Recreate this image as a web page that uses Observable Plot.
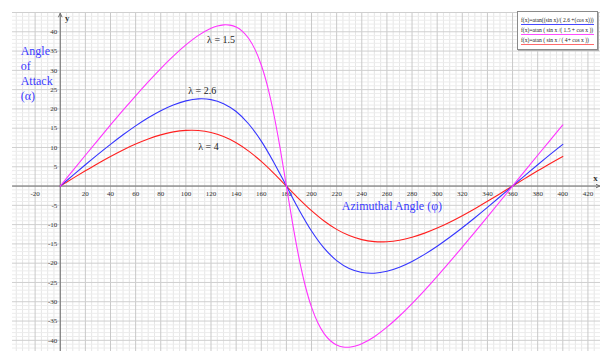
<!DOCTYPE html>
<html>
<head>
<meta charset="utf-8">
<script src="https://cdn.jsdelivr.net/npm/d3@7"></script>
<script src="https://cdn.jsdelivr.net/npm/@observablehq/plot@0.6"></script>
<style>
  html, body { margin: 0; padding: 0; background: #fff; }
  #wrap { position: relative; width: 600px; height: 351px; overflow: hidden; }
  #legend { position: absolute; left: 517px; top: 11px; width: 79px; height: 37px;
    border: 1px solid #8a8a8a; box-shadow: 1px 1px 0 #b0b0b0; background: #fff;
    font-family: "Liberation Serif", serif; font-size: 5.6px; color: #222; }
  #legend div { position: absolute; left: 3px; width: 73px; white-space: nowrap; line-height: 7px; height: 7px; }
</style>
</head>
<body>
<div id="wrap"></div>
<script>
// Azimuthal angle (degrees)
const angles = [0,10,20,30,40,50,60,70,80,90,100,110,120,130,140,150,160,170,180,
  190,200,210,220,230,240,250,260,270,280,290,300,310,320,330,340,350,360,370,380,390,400];
// Angle of attack for lambda = 2.6
const lam26 = [0,2.77,5.52,8.21,10.81,13.29,15.61,17.71,19.55,21.04,22.09,22.60,22.41,21.37,19.32,16.09,11.64,6.13,0,
  -6.13,-11.64,-16.09,-19.32,-21.37,-22.41,-22.60,-22.09,-21.04,-19.55,-17.71,-15.61,-13.29,-10.81,-8.21,-5.52,-2.77,0,2.77,5.52,8.21,10.81];
// Angle of attack for lambda = 4
const lam4 = [0,1.99,3.96,5.87,7.68,9.37,10.89,12.21,13.27,14.04,14.43,14.41,13.90,12.85,11.24,9.07,6.38,3.30,0,
  -3.30,-6.38,-9.07,-11.24,-12.85,-13.90,-14.41,-14.43,-14.04,-13.27,-12.21,-10.89,-9.37,-7.68,-5.87,-3.96,-1.99,0,1.99,3.96,5.87,7.68];
// lambda = 1.5 (denser sampling near the steep part)
const angles15 = [0,10,20,30,40,50,60,70,80,90,100,110,120,125,130,135,140,145,150,155,160,165,170,175,180,
  185,190,195,200,205,210,215,220,225,230,235,240,250,260,270,280,290,300,310,320,330,340,350,360,370,380,390,400];
const lam15 = [0,4.00,7.98,11.93,15.84,19.67,23.41,27.03,30.47,33.69,36.59,39.06,40.89,41.48,41.79,41.72,41.21,40.11,38.26,35.44,31.40,25.85,18.62,9.82,0,
  -9.82,-18.62,-25.85,-31.40,-35.44,-38.26,-40.11,-41.21,-41.72,-41.79,-41.48,-40.89,-39.06,-36.59,-33.69,-30.47,-27.03,-23.41,-19.67,-15.84,-11.93,-7.98,-4.00,0,4.00,7.98,11.93,15.84];

const xTicks = [-20,20,40,60,80,100,120,140,160,180,200,220,240,260,280,300,320,340,360,380,400,420];
const yTicks = [-40,-35,-30,-25,-20,-15,-10,-5,5,10,15,20,25,30,35,40];

const legendLabels = ["f(x)=atan((sin x)/( 2.6 +(cos x)))", "f(x)=atan ( sin x /( 1.5 + cos x ))", "f(x)=atan ( sin x / ( 4+ cos x ))"];
const legendColors = ["#4848ff", "#ff4dff", "#ff6a6a"];

const cBlue = "#3535ff", cMag = "#ff33ff", cRed = "#ff2020";

const s26 = angles.map((a, i) => ({x: a, y: lam26[i]}));
const s4 = angles.map((a, i) => ({x: a, y: lam4[i]}));
const s15 = angles15.map((a, i) => ({x: a, y: lam15[i]}));

const X0 = -38, X1 = 430, Y0 = -42.9, Y1 = 45;
const minorX = d3.range(-35, 431, 5).filter(v => v % 20 !== 0);
const majorX = d3.range(-20, 431, 20);
const minorY = d3.range(-42, 46, 1).filter(v => v % 5 !== 0);
const majorY = d3.range(-40, 46, 5);
const serif = "Liberation Serif, Times New Roman, serif";

const chart = Plot.plot({
  width: 600, height: 351,
  marginLeft: 12, marginTop: 12, marginRight: 0, marginBottom: 0,
  x: {domain: [X0, X1], axis: null},
  y: {domain: [Y0, Y1], axis: null},
  style: {background: "#fff", fontFamily: serif},
  marks: [
    Plot.ruleX(minorX, {stroke: "#e6e6e6", strokeWidth: 1}),
    Plot.ruleY(minorY, {stroke: "#ececec", strokeWidth: 1}),
    Plot.ruleX(majorX, {stroke: "#c9c9c9", strokeWidth: 1}),
    Plot.ruleY(majorY, {stroke: "#cfcfcf", strokeWidth: 1}),
    Plot.arrow([{x1: X0, y1: 0, x2: 429.5, y2: 0}], {x1: "x1", y1: "y1", x2: "x2", y2: "y2", stroke: "#6e6e6e", strokeWidth: 1, headLength: 6, headAngle: 50}),
    Plot.arrow([{x1: 0, y1: Y0, x2: 0, y2: 44.8}], {x1: "x1", y1: "y1", x2: "x2", y2: "y2", stroke: "#6e6e6e", strokeWidth: 1, headLength: 6, headAngle: 50}),
    Plot.text(xTicks, {x: d => d, y: 0, text: d => String(d), dy: 8, fontSize: 7, fill: "#333"}),
    Plot.text(yTicks, {x: 0, y: d => d, text: d => String(d), dx: -3, textAnchor: "end", fontSize: 7, fill: "#333"}),
    Plot.text(["x"], {x: X1, y: 0, text: d => d, dx: -5, dy: -8, fontSize: 9, fontWeight: "bold", fill: "#333"}),
    Plot.text(["y"], {x: 0, y: Y1, text: d => d, dx: 7, dy: 6, fontSize: 9, fontWeight: "bold", fill: "#333"}),
    Plot.line(s4, {x: "x", y: "y", stroke: cRed, strokeWidth: 1.1, curve: "catmull-rom"}),
    Plot.line(s26, {x: "x", y: "y", stroke: cBlue, strokeWidth: 1.1, curve: "catmull-rom"}),
    Plot.line(s15, {x: "x", y: "y", stroke: cMag, strokeWidth: 1.1, curve: "catmull-rom"}),
    Plot.text(["λ = 1.5"], {x: 128, y: 38, text: d => d, fontSize: 10, fill: "#222"}),
    Plot.text(["λ = 2.6"], {x: 113, y: 24.7, text: d => d, fontSize: 10, fill: "#222"}),
    Plot.text(["λ = 4"], {x: 118, y: 10.2, text: d => d, fontSize: 10, fill: "#222"}),
    Plot.text(["Angle\nof\nAttack\n(α)"], {x: -31.5, y: 36.8, text: d => d, textAnchor: "start", lineAnchor: "top", lineHeight: 1.25, fontSize: 12, fill: "#3b3bff"}),
    Plot.text(["Azimuthal Angle (φ)"], {x: 264, y: -6.1, text: d => d, lineAnchor: "bottom", fontSize: 12, fill: "#3b3bff"})
  ]
});
const wrap = document.getElementById("wrap");
wrap.appendChild(chart);

const leg = document.createElement("div");
leg.id = "legend";
legendLabels.forEach((t, i) => {
  const d = document.createElement("div");
  d.textContent = t;
  d.style.top = (5 + i * 10) + "px";
  d.style.borderBottom = "1.3px solid " + legendColors[i];
  leg.appendChild(d);
});
wrap.appendChild(leg);
</script>
</body>
</html>
